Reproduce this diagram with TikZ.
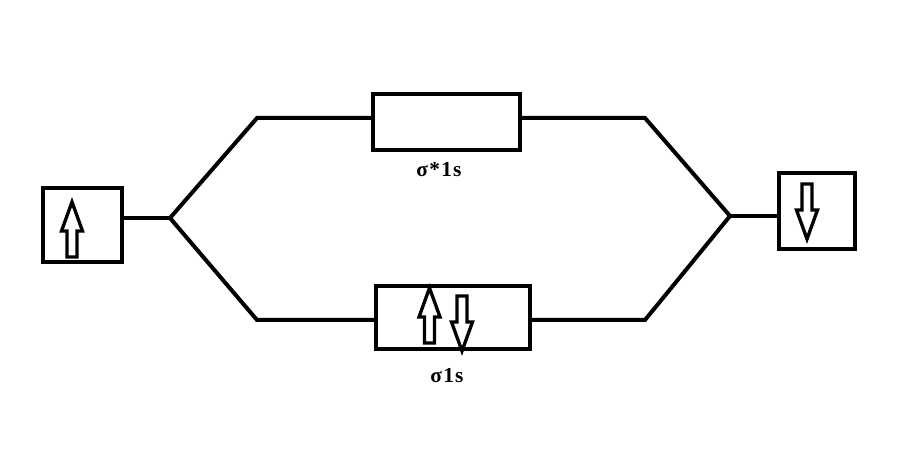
\documentclass[tikz,border=0pt]{standalone}
\usepackage{fontspec}
\setmainfont{Liberation Serif}
\newfontfamily\labfont[LetterSpace=6]{Liberation Serif}
\begin{document}
\begin{tikzpicture}[x=0.75pt,y=-0.75pt,
  line/.style={line width=3pt,line join=miter},
  box/.style={draw,line width=3pt,inner sep=0pt},
  lab/.style={font=\labfont\fontsize{16}{18}\selectfont\bfseries,inner sep=0pt},
  hup/.pic={\draw[line width=2.5pt,line join=miter] (-5,0) -- (5,0) -- (5,-26) -- (10.5,-26) -- (0,-55) -- (-10.5,-26) -- (-5,-26) -- cycle;},
  hdown/.pic={\draw[line width=2.5pt,line join=miter] (-5,0) -- (5,0) -- (5,26) -- (10.5,26) -- (0,55) -- (-10.5,26) -- (-5,26) -- cycle;}
]
\useasboundingbox (0,0) rectangle (917,473);
% boxes
\node[box,minimum width=79pt*0.75,minimum height=74pt*0.75] (L) at (82.5,225.5) {};
\node[box,minimum width=76pt*0.75,minimum height=76pt*0.75] (R) at (817,211) {};
\node[box,minimum width=147pt*0.75,minimum height=56pt*0.75] (T) at (446.5,122.5) {};
\node[box,minimum width=154pt*0.75,minimum height=63pt*0.75] (B) at (453,318) {};
% labels
\node[lab] (Tl) at (439,170) {σ*1s};
\node[lab] (Bl) at (447,376) {σ1s};
% branch points
\coordinate (lb) at (170,218);
\coordinate (lu) at (257,118);
\coordinate (ld) at (257,320);
\coordinate (rb) at (730,216);
\coordinate (ru) at (645,118);
\coordinate (rd) at (645,320);
% connectors
\draw[line] (L.east |- lb) -- (lb);
\draw[line] (lb) -- (lu) -- (T.west |- lu);
\draw[line] (lb) -- (ld) -- (B.west |- ld);
\draw[line] (T.east |- ru) -- (ru) -- (rb);
\draw[line] (B.east |- rd) -- (rd) -- (rb);
\draw[line] (rb) -- (R.west |- rb);
% spin arrows
\pic at (72,257) {hup};
\pic at (429.5,343) {hup};
\pic at (807,184) {hdown};
\pic at (462,296) {hdown};
\end{tikzpicture}
\end{document}
